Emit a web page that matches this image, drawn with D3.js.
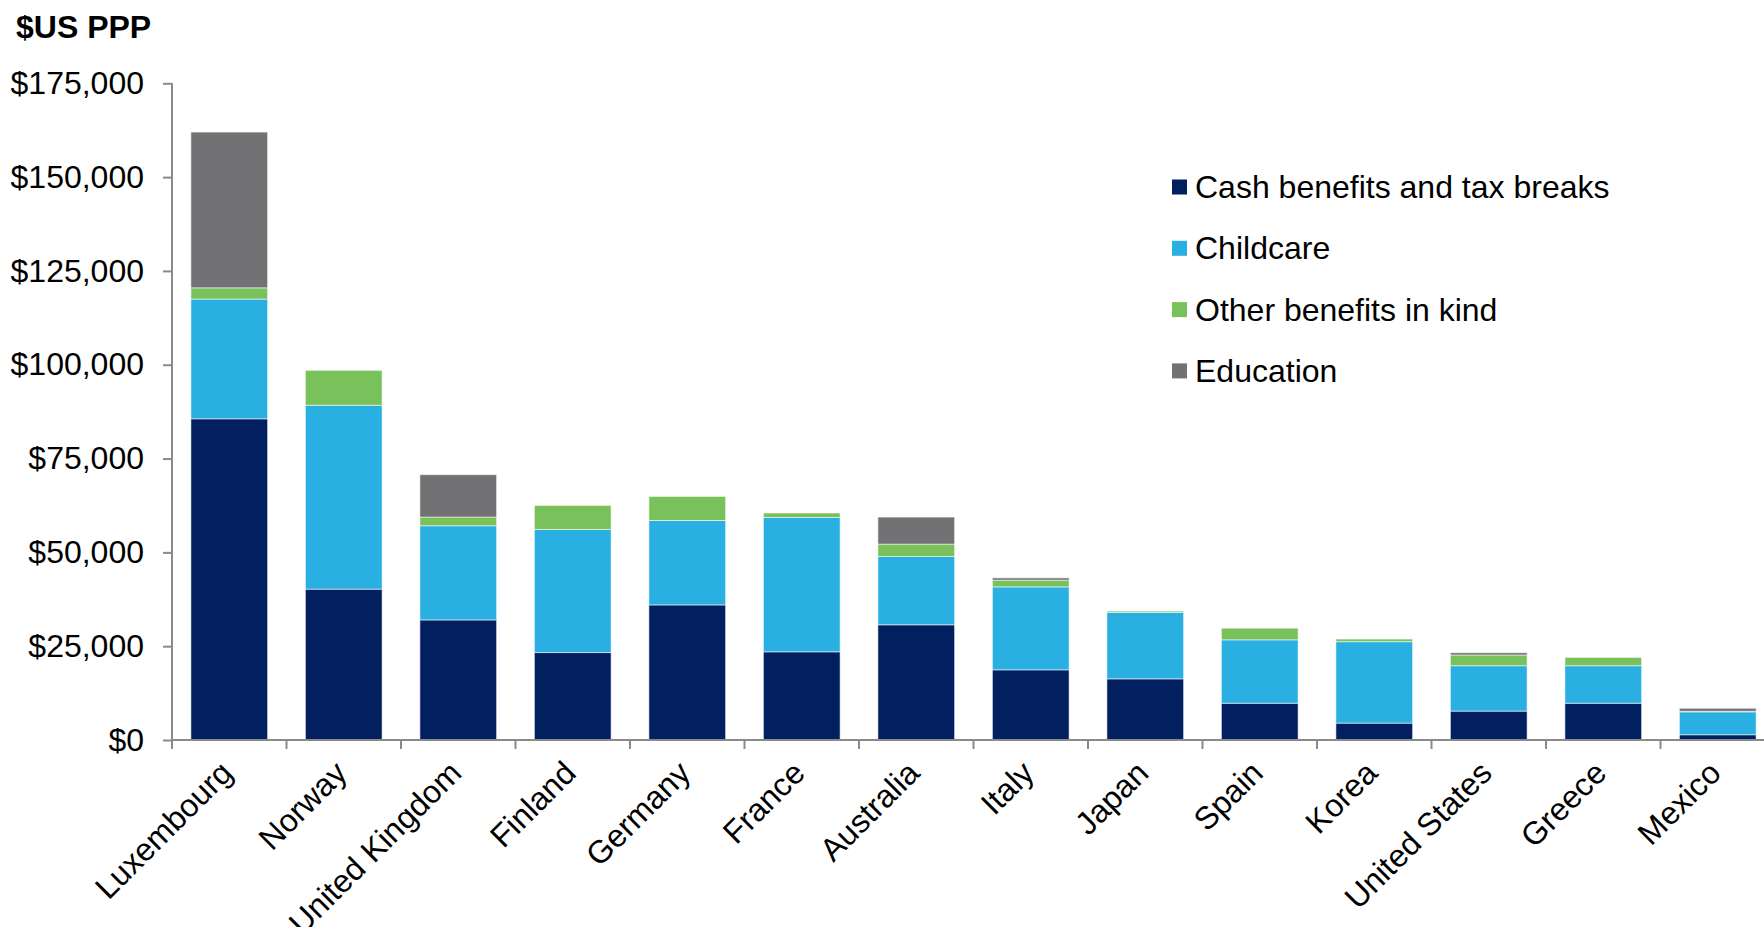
<!DOCTYPE html>
<html><head><meta charset="utf-8">
<script src="https://cdn.jsdelivr.net/npm/d3@7"></script>
<style>body{margin:0;background:#fff;overflow:hidden} svg{display:block}</style>
</head><body><svg id="c" width="1764" height="927"></svg>
<script>
const countries = ["Luxembourg","Norway","United Kingdom","Finland","Germany","France","Australia","Italy","Japan","Spain","Korea","United States","Greece","Mexico"];
const seriesNames = ["Cash benefits and tax breaks","Childcare","Other benefits in kind","Education"];
const cashBenefits = [85600, 40200, 32000, 23300, 36000, 23500, 30700, 18700, 16300, 9800, 4500, 7700, 9800, 1400];
const childcare    = [31900, 49000, 25100, 32800, 22500, 35800, 18200, 22100, 17700, 16900, 21700, 12100, 10000, 6100];
const otherInKind  = [3000, 9300, 2300, 6400, 6400, 1200, 3300, 1800, 350, 3100, 700, 2850, 2200, 150];
const education    = [41500, 0, 11300, 0, 0, 0, 7200, 600, 0, 0, 0, 600, 0, 800];
const yTickValues  = [0, 25000, 50000, 75000, 100000, 125000, 150000, 175000];
const seriesColors = ["#022060", "#2AAFE2", "#79C25B", "#727274"];

const font = "'Liberation Sans', Arial, sans-serif";
const svg = d3.select("#c");

const keys = ["cash","childcare","other","education"];
const table = countries.map((c, i) => ({country: c, cash: cashBenefits[i], childcare: childcare[i], other: otherInKind[i], education: education[i]}));
const stacked = d3.stack().keys(keys)(table);

const x = d3.scaleBand().domain(countries).range([172, 1775]).paddingInner(0.33).paddingOuter(0.165);
const y = d3.scaleLinear().domain([0, 175000]).range([740, 83.3]);
const color = d3.scaleOrdinal().domain(keys).range(seriesColors);

// bars
svg.append("g").selectAll("g").data(stacked).join("g")
  .attr("fill", d => color(d.key))
  .selectAll("rect").data(d => d.filter(s => s[1] - s[0] > 0)).join("rect")
  .attr("x", d => x(d.data.country))
  .attr("width", x.bandwidth())
  .attr("y", d => y(d[1]))
  .attr("height", d => y(d[0]) - y(d[1]))
  .attr("stroke", "rgba(255,255,255,0.55)")
  .attr("stroke-width", 1);

// y axis
const yAxis = svg.append("g").attr("transform", "translate(172,0)")
  .call(d3.axisLeft(y).tickValues(yTickValues).tickFormat(d3.format("$,.0f")).tickSize(9).tickPadding(19));
yAxis.select(".domain").attr("stroke", "#8a8a8a").attr("stroke-width", 2).attr("d", "M0," + y(175000) + "V" + y(0));
yAxis.selectAll(".tick line").attr("stroke", "#8a8a8a").attr("stroke-width", 2);
yAxis.selectAll(".tick text").attr("font-family", font).attr("font-size", 32).attr("fill", "#000");

// x axis
const xb = svg.append("g").attr("transform", "translate(0,740)");
xb.append("line").attr("x1", 172).attr("x2", 1775).attr("stroke", "#8a8a8a").attr("stroke-width", 2);
const step = x.step();
const boundaries = countries.map((c, i) => x(c) - x.paddingInner() * step / 2);
xb.selectAll("line.tk").data(boundaries).join("line").attr("class","tk")
  .attr("x1", d => d).attr("x2", d => d).attr("y1", 0).attr("y2", 9)
  .attr("stroke", "#8a8a8a").attr("stroke-width", 2);
svg.append("g").selectAll("text").data(countries).join("text")
  .attr("transform", d => `translate(${x(d) + x.bandwidth()/2 + 5},775) rotate(-45)`)
  .attr("text-anchor", "end")
  .attr("font-family", font).attr("font-size", 32).attr("fill", "#000")
  .text(d => d);

// title
svg.append("text").attr("x", 16).attr("y", 38).attr("font-family", font)
  .attr("font-size", 32).attr("font-weight", "bold").attr("fill", "#000").text("$US PPP");

// legend
const lg = svg.append("g").selectAll("g").data(seriesNames).join("g")
  .attr("transform", (d, i) => `translate(1172,${187 + i * 61.3})`);
lg.append("rect").attr("x", 0).attr("y", -7.5).attr("width", 15).attr("height", 15)
  .attr("fill", (d, i) => seriesColors[i]);
lg.append("text").attr("x", 23).attr("y", 11).attr("font-family", font).attr("font-size", 32)
  .attr("fill", "#000").text(d => d);
</script>
</body></html>
